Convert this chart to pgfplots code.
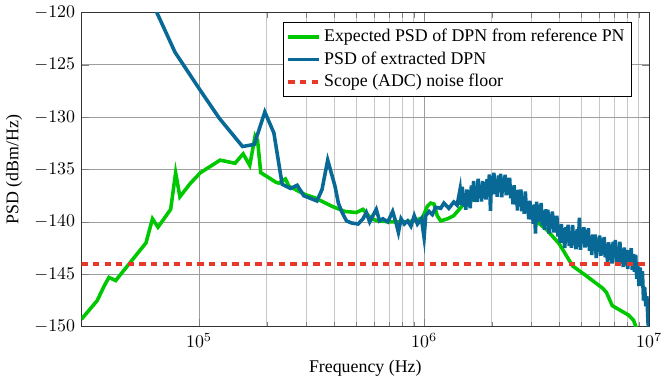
\documentclass[border=0pt]{standalone}
\usepackage{fontspec}
\setmainfont{Liberation Serif}
\usepackage{pgfplots}
\pgfplotsset{compat=1.18}
\definecolor{cgreen}{RGB}{0,200,0}
\definecolor{cblue}{RGB}{8,104,150}
\definecolor{cred}{RGB}{232,56,40}
\begin{document}
\begin{tikzpicture}
\begin{axis}[
  scale only axis,
  width=318pt, height=176pt,
  xmode=log,
  xmin=3e4, xmax=1e7,
  ymin=-150, ymax=-120,
  ytick={-150,-145,...,-120},
  xtick={1e5,1e6,1e7},
  grid=both,
  major grid style={black!38},
  minor grid style={black!22},
  xlabel={Frequency (Hz)},
  ylabel={PSD (dBm/Hz)},
  legend pos=north east,
  legend cell align=left,
  legend style={font=\normalsize, inner sep=2pt},
  axis line style={black!80},
]
\addplot[cgreen, line width=2pt] coordinates {
(3.0e4,-149.3) (3.53e4,-147.5) (3.79e4,-146.1) (3.98e4,-145.3) (4.26e4,-145.6)
(5.81e4,-142.0) (6.21e4,-139.7) (6.57e4,-140.5) (7.48e4,-138.8) (7.87e4,-135.3)
(8.22e4,-137.6) (9.16e4,-136.3) (1.014e5,-135.3) (1.24e5,-134.1) (1.445e5,-134.4)
(1.57e5,-133.5) (1.68e5,-134.6) (1.775e5,-131.8) (1.82e5,-132.2) (1.88e5,-135.3)
(2.05e5,-135.8) (2.19e5,-136.2) (2.26e5,-136.3) (2.42e5,-135.9) (2.51e5,-136.6)
(2.97e5,-137.4) (3.28e5,-137.7) (3.89e5,-138.5) (4.45e5,-139.0) (5.0e5,-139.1)
(5.35e5,-138.8) (5.83e5,-139.7) (6.23e5,-139.9) (7.14e5,-140.0) (8.17e5,-140.0)
(9.04e5,-139.9) (9.84e5,-139.6) (1.034e6,-138.5) (1.070e6,-138.2) (1.107e6,-138.3)
(1.144e6,-139.4) (1.185e6,-139.9) (1.27e6,-139.7) (1.355e6,-139.4) (1.50e6,-138.3)
(1.774e6,-137.5) (1.995e6,-136.9) (2.21e6,-136.8) (2.49e6,-137.4) (2.75e6,-138.3)
(3.05e6,-139.7) (3.49e6,-140.7) (3.99e6,-142.1) (4.57e6,-144.2) (5.22e6,-145.1)
(6.19e6,-146.3) (6.45e6,-146.7) (6.86e6,-148.0) (8.11e6,-148.9) (8.53e6,-149.4)
(8.73e6,-150.0) (9.1e6,-151.0)
};
\addlegendentry{Expected PSD of DPN from reference PN}
\addplot[cblue, line width=2pt] coordinates {
(6.17e4,-119.0) (6.49e4,-120.0) (7.82e4,-123.8) (1.01e5,-127.4) (1.23e5,-130.1)
(1.56e5,-132.8) (1.76e5,-132.6) (1.96e5,-129.5) (2.15e5,-131.5) (2.34e5,-136.4)
(2.55e5,-136.8) (2.73e5,-136.5) (2.92e5,-137.5) (3.34e5,-138.0) (3.52e5,-136.9)
(3.73e5,-134.1) (4.02e5,-136.6) (4.16e5,-138.2) (4.30e5,-139.0) (4.52e5,-139.9)
(4.76e5,-140.1) (5.09e5,-140.2) (5.35e5,-139.7) (5.54e5,-139.1) (5.73e5,-140.0)
(5.92e5,-139.4) (6.13e5,-138.8) (6.34e5,-139.9) (6.56e5,-139.7) (6.90e5,-140.0)
(7.25e5,-139.0) (7.51e5,-140.1) (7.69e5,-141.0) (7.90e5,-139.7) (8.17e5,-140.2)
(8.45e5,-139.9) (8.74e5,-140.4) (9.04e5,-139.4) (9.34e5,-140.2) (9.73e5,-139.7)
(1.0e6,-141.5) (1.017e6,-139.4) (1.052e6,-139.0) (1.088e6,-139.3) (1.126e6,-138.6)
(1.185e6,-138.7) (1.225e6,-138.2) (1.288e6,-138.7) (1.355e6,-138.1) (1.402e6,-138.4)
(1.445e6,-136.90) (1.462e6,-138.37) (1.479e6,-136.63) (1.496e6,-138.50) (1.514e6,-137.27)
(1.531e6,-138.83) (1.549e6,-136.90) (1.567e6,-138.53) (1.585e6,-136.97) (1.603e6,-138.70)
(1.622e6,-136.53) (1.641e6,-137.87) (1.660e6,-136.10) (1.679e6,-138.07) (1.698e6,-136.83)
(1.718e6,-138.10) (1.738e6,-135.87) (1.758e6,-137.73) (1.778e6,-136.50) (1.799e6,-138.05)
(1.820e6,-136.10) (1.841e6,-137.75) (1.862e6,-136.20) (1.884e6,-137.85) (1.905e6,-135.90)
(1.928e6,-137.08) (1.950e6,-135.47) (1.972e6,-138.95) (1.995e6,-135.63) (2.018e6,-137.12)
(2.042e6,-135.30) (2.065e6,-137.37) (2.089e6,-135.93) (2.113e6,-137.60) (2.138e6,-135.57)
(2.163e6,-136.73) (2.188e6,-135.40) (2.213e6,-137.65) (2.239e6,-135.80) (2.265e6,-137.05)
(2.291e6,-135.50) (2.317e6,-137.45) (2.344e6,-135.80) (2.371e6,-137.38) (2.399e6,-135.77)
(2.427e6,-137.75) (2.455e6,-136.63) (2.483e6,-138.32) (2.512e6,-136.50) (2.541e6,-138.33)
(2.570e6,-136.97) (2.600e6,-138.90) (2.630e6,-136.93) (2.661e6,-138.47) (2.692e6,-136.90)
(2.723e6,-138.98) (2.754e6,-137.85) (2.786e6,-139.23) (2.818e6,-137.10) (2.851e6,-139.12)
(2.884e6,-138.03) (2.917e6,-139.75) (2.951e6,-137.97) (2.985e6,-139.78) (3.020e6,-138.40)
(3.055e6,-140.17) (3.090e6,-138.33) (3.126e6,-141.10) (3.162e6,-138.07) (3.199e6,-140.03)
(3.236e6,-138.40) (3.273e6,-139.95) (3.311e6,-138.20) (3.350e6,-140.35) (3.388e6,-139.00)
(3.428e6,-140.75) (3.467e6,-138.80) (3.508e6,-140.07) (3.548e6,-138.83) (3.589e6,-141.10)
(3.631e6,-139.27) (3.673e6,-140.53) (3.715e6,-139.00) (3.758e6,-141.00) (3.802e6,-139.40)
(3.846e6,-141.00) (3.890e6,-139.40) (3.936e6,-141.40) (3.981e6,-140.30) (4.027e6,-142.00)
(4.074e6,-140.20) (4.121e6,-142.00) (4.169e6,-140.60) (4.217e6,-142.50) (4.266e6,-140.50)
(4.315e6,-141.93) (4.365e6,-140.27) (4.416e6,-142.30) (4.467e6,-141.13) (4.519e6,-142.47)
(4.571e6,-140.30) (4.624e6,-142.20) (4.677e6,-141.00) (4.732e6,-142.60) (4.786e6,-140.70)
(4.842e6,-142.40) (4.898e6,-139.60) (4.955e6,-142.65) (5.012e6,-140.80) (5.070e6,-142.05)
(5.129e6,-140.50) (5.188e6,-142.45) (5.248e6,-140.80) (5.309e6,-142.35) (5.370e6,-140.60)
(5.433e6,-142.75) (5.495e6,-141.40) (5.559e6,-143.15) (5.623e6,-141.20) (5.689e6,-142.45)
(5.754e6,-141.20) (5.821e6,-143.45) (5.888e6,-141.60) (5.957e6,-142.85) (6.026e6,-141.30)
(6.095e6,-143.23) (6.166e6,-141.57) (6.237e6,-143.10) (6.310e6,-141.43) (6.383e6,-143.37)
(6.457e6,-142.20) (6.531e6,-143.82) (6.607e6,-141.93) (6.683e6,-143.65) (6.761e6,-142.17)
(6.839e6,-143.98) (6.918e6,-141.90) (6.998e6,-143.37) (7.079e6,-141.73) (7.161e6,-143.80)
(7.244e6,-142.67) (7.328e6,-144.03) (7.413e6,-141.90) (7.499e6,-143.83) (7.586e6,-142.67)
(7.674e6,-144.30) (7.762e6,-142.43) (7.852e6,-144.17) (7.943e6,-142.70) (8.035e6,-144.50)
(8.128e6,-142.70) (8.222e6,-144.00) (8.318e6,-142.50) (8.414e6,-144.58) (8.511e6,-143.07)
(8.610e6,-144.75) (8.710e6,-143.13) (8.810e6,-145.42) (8.913e6,-144.20) (9.016e6,-146.13)
(9.120e6,-144.35) (9.226e6,-145.78) (9.333e6,-144.70) (9.441e6,-147.50) (9.550e6,-146.20)
(9.661e6,-148.05) (9.772e6,-147.10) (9.886e6,-149.65) (1.0e7,-150.5)
};
\addlegendentry{PSD of extracted DPN}
\addplot[cred, line width=2pt, dash pattern=on 3.5pt off 3pt] coordinates {
(3e4,-144) (1e7,-144)
};
\addlegendentry{Scope (ADC) noise floor}
\end{axis}
\end{tikzpicture}
\end{document}
